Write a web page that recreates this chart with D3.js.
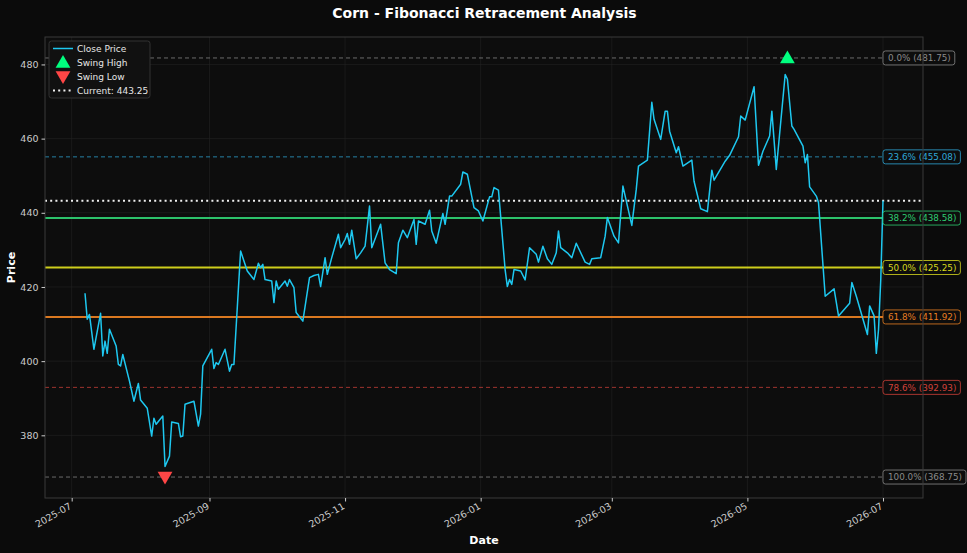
<!DOCTYPE html>
<html>
<head>
<meta charset="utf-8">
<script src="https://cdn.jsdelivr.net/npm/d3@7"></script>
<style>
  html, body { margin: 0; padding: 0; background: #0b0b0b; }
  svg { display: block; font-family: "DejaVu Sans", sans-serif; }
</style>
</head>
<body>
<div id="chart"></div>
<script>
// close prices (date, close)
var dates = [
  "2025-07-07","2025-07-08","2025-07-09","2025-07-11","2025-07-14","2025-07-15","2025-07-16","2025-07-17","2025-07-18","2025-07-21",
  "2025-07-22","2025-07-23","2025-07-24","2025-07-27","2025-07-29","2025-07-31","2025-08-01","2025-08-04","2025-08-06","2025-08-07",
  "2025-08-08","2025-08-11","2025-08-12","2025-08-14","2025-08-15","2025-08-18","2025-08-19","2025-08-20","2025-08-21","2025-08-25",
  "2025-08-27","2025-08-28","2025-08-29","2025-09-02","2025-09-03","2025-09-04","2025-09-05","2025-09-08","2025-09-10","2025-09-11",
  "2025-09-12","2025-09-15","2025-09-18","2025-09-21","2025-09-23","2025-09-24","2025-09-25","2025-09-26","2025-09-29","2025-09-30",
  "2025-10-01","2025-10-02","2025-10-05","2025-10-06","2025-10-07","2025-10-09","2025-10-10","2025-10-13","2025-10-16","2025-10-18",
  "2025-10-20","2025-10-21","2025-10-23","2025-10-24","2025-10-26","2025-10-29","2025-10-30","2025-11-01","2025-11-02","2025-11-03",
  "2025-11-04","2025-11-06","2025-11-08","2025-11-10","2025-11-12","2025-11-13","2025-11-17","2025-11-19","2025-11-21","2025-11-24",
  "2025-11-25","2025-11-27","2025-11-29","2025-12-02","2025-12-03","2025-12-04","2025-12-07","2025-12-09","2025-12-10","2025-12-12",
  "2025-12-15","2025-12-16","2025-12-18","2025-12-19","2025-12-23","2025-12-24","2025-12-26","2025-12-29","2025-12-31","2026-01-02",
  "2026-01-05","2026-01-06","2026-01-07","2026-01-09","2026-01-12","2026-01-13","2026-01-14","2026-01-15","2026-01-16","2026-01-19",
  "2026-01-21","2026-01-23","2026-01-26","2026-01-27","2026-01-29","2026-01-31","2026-02-02","2026-02-04","2026-02-05","2026-02-06",
  "2026-02-09","2026-02-11","2026-02-13","2026-02-17","2026-02-19","2026-02-20","2026-02-24","2026-02-26","2026-02-27","2026-03-02",
  "2026-03-04","2026-03-06","2026-03-10","2026-03-12","2026-03-13","2026-03-17","2026-03-19","2026-03-20","2026-03-23","2026-03-25",
  "2026-03-26","2026-03-27","2026-03-30","2026-03-31","2026-04-02","2026-04-06","2026-04-07","2026-04-10","2026-04-13","2026-04-15",
  "2026-04-16","2026-04-21","2026-04-23","2026-04-27","2026-04-28","2026-04-30","2026-05-04","2026-05-06","2026-05-08","2026-05-11",
  "2026-05-12","2026-05-14","2026-05-18","2026-05-19","2026-05-21","2026-05-22","2026-05-26","2026-05-27","2026-05-28","2026-05-29",
  "2026-06-01","2026-06-02","2026-06-05","2026-06-09","2026-06-11","2026-06-16","2026-06-17","2026-06-19","2026-06-24","2026-06-25",
  "2026-06-27","2026-06-28","2026-06-29","2026-06-30","2026-07-01"
];
var closes = [
  418.3,411.3,412.6,403.2,412.9,401.4,405.4,402.1,408.6,404.1,
  399.1,398.7,401.8,394.6,389.2,394.0,389.5,387.3,379.8,384.6,
  383.0,385.2,371.6,374.4,383.6,383.2,379.6,379.8,388.4,389.2,
  382.5,385.7,398.7,403.2,398.0,399.6,399.1,403.2,397.3,399.1,
  399.1,429.7,424.3,422.0,426.4,425.2,426.1,422.0,421.6,415.8,
  421.6,419.4,421.6,420.2,422.0,419.8,413.1,410.8,422.5,423.1,
  423.4,420.1,427.9,423.4,427.9,434.2,430.6,432.8,434.4,431.5,
  435.3,427.6,429.2,431.0,441.8,430.6,436.9,426.5,424.7,423.6,
  431.9,435.3,433.3,438.2,431.5,437.8,436.9,440.7,435.1,431.8,
  439.8,436.9,444.5,444.5,447.7,451.0,450.4,441.4,440.5,437.8,
  444.3,444.3,446.8,446.1,424.7,420.1,422.0,420.7,424.7,424.3,
  421.9,430.6,428.8,426.7,431.0,427.6,426.1,429.2,435.1,430.6,
  429.2,427.9,431.8,426.7,426.1,427.6,427.9,433.7,438.7,433.7,
  431.9,447.2,436.6,446.3,452.6,454.2,469.8,465.2,459.8,467.4,
  467.4,462.0,456.2,457.8,452.6,454.2,448.5,441.1,440.3,451.5,
  448.8,453.9,455.5,460.5,466.1,465.0,474.0,452.8,456.6,460.7,
  467.4,451.7,477.3,476.0,463.4,462.5,458.0,453.5,455.7,447.0,
  444.5,442.7,417.5,419.5,412.2,415.6,421.2,417.5,407.2,414.9,
  412.2,402.1,408.6,422.0,443.25
];

var fibPcts   = ["0.0%","23.6%","38.2%","50.0%","61.8%","78.6%","100.0%"];
var fibLevels = [481.75,455.08,438.58,425.25,411.92,392.93,368.75];
var fibColors = ["#8a8a8a","#2fa8d8","#2ecc71","#d8d81e","#e67e22","#d0413a","#8a8a8a"];
var fibSolid  = [false,false,true,true,true,false,false];

var swingHigh = {date: "2026-05-19", price: 481.75};
var swingLow  = {date: "2025-08-12", price: 368.75};
var currentPrice = 443.25;
var yTicks = [380,400,420,440,460,480];

var W = 967, H = 553;
var margin = {top: 37, right: 44, bottom: 55, left: 45};
var parse = d3.timeParse("%Y-%m-%d");

var data = dates.map(function(d, i) { return {date: parse(d), close: closes[i]}; });

var svg = d3.select("#chart").append("svg")
    .attr("width", W)
    .attr("height", H);

svg.append("rect").attr("width", W).attr("height", H).attr("fill", "#0b0b0b");

var x = d3.scaleTime()
    .domain([parse("2025-06-19"), parse("2026-07-19")])
    .range([margin.left, W - margin.right]);
var y = d3.scaleLinear()
    .domain([363.1, 487.4])
    .range([H - margin.bottom, margin.top]);

// plot background
svg.append("rect")
    .attr("x", margin.left).attr("y", margin.top)
    .attr("width", W - margin.left - margin.right)
    .attr("height", H - margin.top - margin.bottom)
    .attr("fill", "#0d0d0d");

var xTicks = ["2025-07-01","2025-09-01","2025-11-01","2026-01-01","2026-03-01","2026-05-01","2026-07-01"].map(parse);

// grid
var grid = svg.append("g");
grid.selectAll(".gx").data(xTicks).enter().append("line")
    .attr("x1", function(d) { return x(d); }).attr("x2", function(d) { return x(d); })
    .attr("y1", margin.top).attr("y2", H - margin.bottom)
    .attr("stroke", "#232323").attr("stroke-width", 0.6);
grid.selectAll(".gy").data(yTicks).enter().append("line")
    .attr("x1", margin.left).attr("x2", W - margin.right)
    .attr("y1", function(d) { return y(d); }).attr("y2", function(d) { return y(d); })
    .attr("stroke", "#232323").attr("stroke-width", 0.6);

// fibonacci levels
fibLevels.forEach(function(lv, i) {
  svg.append("line")
    .attr("x1", margin.left).attr("x2", W - margin.right)
    .attr("y1", y(lv)).attr("y2", y(lv))
    .attr("stroke", fibColors[i])
    .attr("stroke-width", fibSolid[i] ? 2 : 1)
    .attr("stroke-opacity", fibSolid[i] ? 0.95 : 0.75)
    .attr("stroke-dasharray", fibSolid[i] ? null : "4,3");
});

// current price
svg.append("line")
    .attr("x1", margin.left).attr("x2", W - margin.right)
    .attr("y1", y(currentPrice)).attr("y2", y(currentPrice))
    .attr("stroke", "#f0f0f0").attr("stroke-width", 2)
    .attr("stroke-dasharray", "2,3.2");

// close line
var line = d3.line()
    .x(function(d) { return x(d.date); })
    .y(function(d) { return y(d.close); });
svg.append("path")
    .datum(data)
    .attr("fill", "none")
    .attr("stroke", "#1ec8f0")
    .attr("stroke-width", 1.5)
    .attr("stroke-linejoin", "round")
    .attr("d", line);

// swing markers
var tri = d3.symbol().type(d3.symbolTriangle).size(95);
svg.append("path").attr("d", tri)
    .attr("transform", "translate(" + x(parse(swingHigh.date)) + "," + (y(swingHigh.price) + 1) + ")")
    .attr("fill", "#00ff7f");
svg.append("path").attr("d", tri)
    .attr("transform", "translate(" + x(parse(swingLow.date)) + "," + (y(swingLow.price) - 1) + ") rotate(180)")
    .attr("fill", "#ff4646");

// level labels
var lab = svg.append("g");
fibLevels.forEach(function(lv, i) {
  var g = lab.append("g").attr("transform", "translate(" + x(parse("2026-07-01")) + "," + y(lv) + ")");
  var t = g.append("text")
      .attr("x", 5).attr("y", 3.2)
      .attr("font-size", 8.8)
      .attr("fill", fibColors[i])
      .text(fibPcts[i] + " (" + lv.toFixed(2) + ")");
  var w = t.node().getComputedTextLength();
  g.insert("rect", "text")
      .attr("x", 0).attr("y", -7)
      .attr("width", w + 9).attr("height", 14)
      .attr("rx", 2.5)
      .attr("fill", "#0d0d0d")
      .attr("stroke", fibColors[i])
      .attr("stroke-opacity", 0.8);
});

// frame
svg.append("rect")
    .attr("x", margin.left).attr("y", margin.top)
    .attr("width", W - margin.left - margin.right)
    .attr("height", H - margin.top - margin.bottom)
    .attr("fill", "none").attr("stroke", "#3a3a3a");

// axes
var yAxis = svg.append("g")
    .attr("transform", "translate(" + margin.left + ",0)")
    .call(d3.axisLeft(y).tickValues(yTicks).tickSize(3.5).tickPadding(3));
var xAxis = svg.append("g")
    .attr("transform", "translate(0," + (H - margin.bottom) + ")")
    .call(d3.axisBottom(x).tickValues(xTicks).tickSize(3.5).tickFormat(d3.timeFormat("%Y-%m")));
[xAxis, yAxis].forEach(function(a) {
  a.select(".domain").remove();
  a.selectAll("line").attr("stroke", "#cccccc");
  a.selectAll("text").attr("fill", "#cccccc").attr("font-size", 9.5)
      .attr("font-family", "DejaVu Sans, sans-serif");
});
xAxis.selectAll("text")
    .attr("text-anchor", "end")
    .attr("dy", null).attr("y", 0)
    .attr("transform", "translate(0,10) rotate(-30)");

// titles
svg.append("text").attr("x", W / 2 + 1).attr("y", 18)
    .attr("text-anchor", "middle").attr("font-size", 14).attr("font-weight", "bold")
    .attr("fill", "#ffffff").text("Corn - Fibonacci Retracement Analysis");
svg.append("text").attr("x", 484).attr("y", 544)
    .attr("text-anchor", "middle").attr("font-size", 11).attr("font-weight", "bold")
    .attr("fill", "#ffffff").text("Date");
svg.append("text").attr("transform", "translate(15," + ((margin.top + H - margin.bottom) / 2) + ") rotate(-90)")
    .attr("text-anchor", "middle").attr("font-size", 11).attr("font-weight", "bold")
    .attr("fill", "#ffffff").text("Price");

// legend
var lg = svg.append("g").attr("transform", "translate(49,41)");
lg.append("rect").attr("width", 101).attr("height", 57).attr("rx", 2.5)
    .attr("fill", "#111111").attr("stroke", "#333333");
var items = ["Close Price", "Swing High", "Swing Low", "Current: " + currentPrice.toFixed(2)];
items.forEach(function(name, i) {
  var cy = 7.5 + i * 14;
  if (i === 0) {
    lg.append("line").attr("x1", 4).attr("x2", 24).attr("y1", cy).attr("y2", cy)
      .attr("stroke", "#1ec8f0").attr("stroke-width", 1.5);
  } else if (i === 1) {
    lg.append("path").attr("d", tri).attr("transform", "translate(14," + (cy + 1) + ")").attr("fill", "#00ff7f");
  } else if (i === 2) {
    lg.append("path").attr("d", tri).attr("transform", "translate(14," + (cy - 1) + ") rotate(180)").attr("fill", "#ff4646");
  } else {
    lg.append("line").attr("x1", 4).attr("x2", 24).attr("y1", cy).attr("y2", cy)
      .attr("stroke", "#f0f0f0").attr("stroke-width", 2).attr("stroke-dasharray", "2,3.2");
  }
  lg.append("text").attr("x", 28).attr("y", cy + 3.3)
    .attr("font-size", 9).attr("fill", "#e6e6e6").text(name);
});
</script>
</body>
</html>
